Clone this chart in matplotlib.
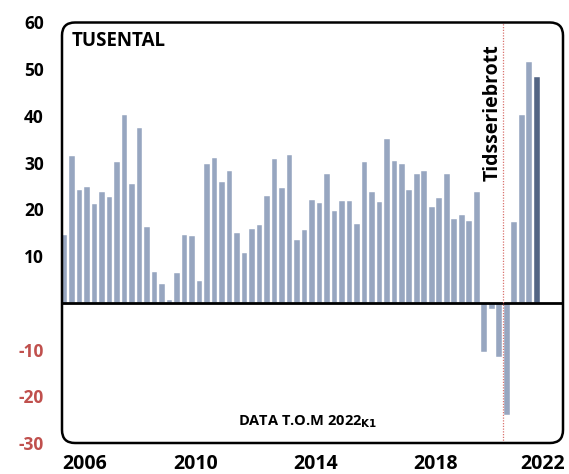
import numpy as np
import pandas as pd
import matplotlib
matplotlib.use('Agg')
import matplotlib.pyplot as plt
from matplotlib.patches import FancyBboxPatch

# quarterly change, thousands, 2006Q2 - 2022Q1
quarters = pd.period_range('2006Q2', '2022Q1', freq='Q')
values = [14.5, 31.5, 24.2, 24.8, 21.2, 23.7, 22.6, 30.2,
          40.3, 25.4, 37.5, 16.3, 6.6, 4.0, 0.6, 6.4,
          14.5, 14.2, 4.6, 29.8, 31.0, 25.8, 28.3, 15.0,
          10.7, 15.9, 16.6, 22.8, 30.7, 24.5, 31.6, 13.4,
          15.5, 22.1, 21.3, 27.5, 19.6, 21.8, 21.9, 16.8,
          30.1, 23.7, 21.5, 35.1, 30.3, 29.8, 24.1, 27.5,
          28.2, 20.6, 22.5, 27.5, 18.0, 18.8, 17.6, 23.7,
          -10.5, -1.4, -11.5, -24.0, 17.3, 40.3, 51.5, 48.4]
year_labels = [2006, 2010, 2014, 2018, 2022]
y_ticks = [-30, -20, -10, 10, 20, 30, 40, 50, 60]
break_after = '2020Q4'

light = '#97A6C0'
dark = '#536584'
red = '#C0504D'

plt.rcParams['font.family'] = ['Open Sans', 'DejaVu Sans']
plt.rcParams['font.weight'] = 'bold'

fig = plt.figure(figsize=(5.69, 4.74), dpi=100)
ax = fig.add_axes([62 / 569, 31 / 474, 501 / 569, 420.5 / 474])

x = np.arange(len(values))
colors = [light] * (len(values) - 1) + [dark]
ax.bar(x, values, width=0.74, color=colors, edgecolor='white', linewidth=0.3, zorder=2)
ax.axhline(0, color='black', lw=2, zorder=3)

# time series break
brk = list(quarters.astype(str)).index(break_after) + 0.5
ax.axvline(brk, color='#D9736F', lw=0.9, ls=(0, (1, 1.2)), zorder=4)
ax.text(brk - 1.35, 60 - 4.6, 'Tidsseriebrott', rotation=90, ha='center', va='top',
        fontsize=14, fontweight='bold')

ax.set_xlim(-0.31, len(values) + 2.5)
ax.set_ylim(-30, 60)

# year labels, centred on each year but kept inside the frame
pos = [min(max((yr - quarters[0].year) * 4 + 1.5, 2.75), len(values) - 0.2) for yr in year_labels]
ax.set_xticks(pos, [str(yr) for yr in year_labels])
ax.set_yticks(y_ticks, [str(t) for t in y_ticks])
ax.tick_params(axis='x', length=0, pad=8, labelsize=14)
ax.tick_params(axis='y', length=0, pad=13, labelsize=12.5)
for lab, t in zip(ax.get_yticklabels(), y_ticks):
    lab.set_color(red if t < 0 else 'black')
    lab.set_fontweight('bold')
for lab in ax.get_xticklabels():
    lab.set_fontweight('bold')

for s in ax.spines.values():
    s.set_visible(False)

ax.text(0.02, 0.955, 'TUSENTAL', transform=ax.transAxes, ha='left', va='center',
        fontsize=13.5, fontweight='bold')
ax.text(0.49, 0.05, r'DATA T.O.M 2022$_{\mathbf{K1}}$', transform=ax.transAxes,
        ha='center', va='center', fontsize=10.5, fontweight='bold')

frame = FancyBboxPatch((0.62, 0.31), 5.01, 4.205, boxstyle='round,pad=0,rounding_size=0.13',
                       transform=fig.dpi_scale_trans, fill=False, lw=1.8, ec='black')
fig.add_artist(frame)

fig.savefig('out.png', dpi=100)
